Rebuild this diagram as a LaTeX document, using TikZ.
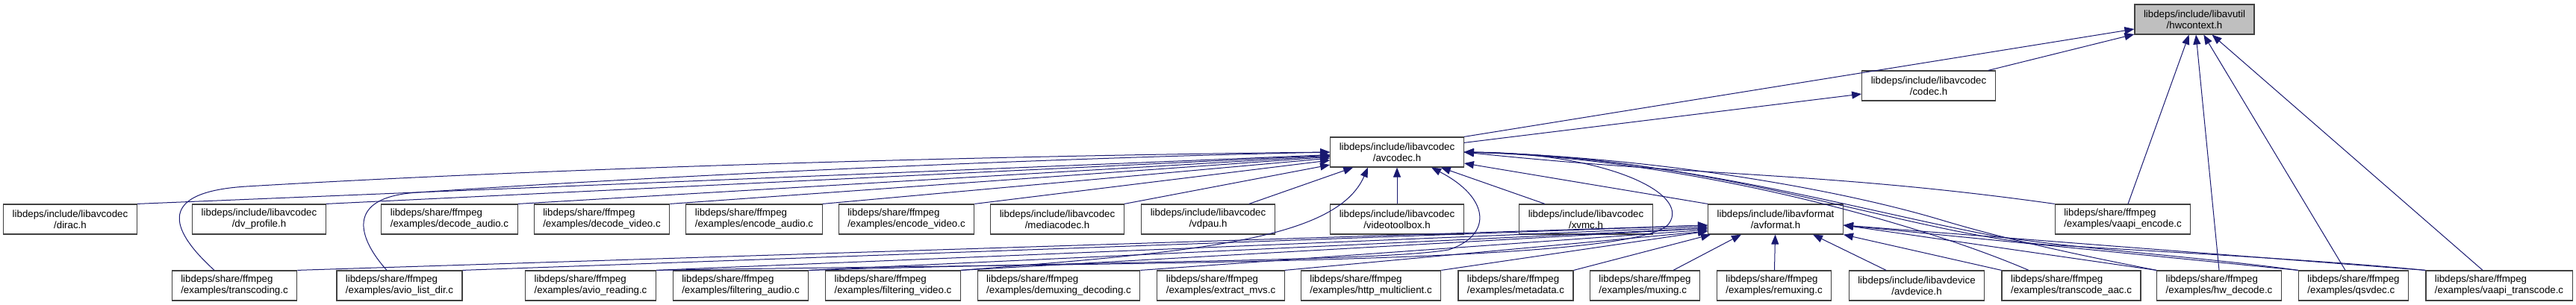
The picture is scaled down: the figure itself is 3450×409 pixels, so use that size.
\documentclass[tikz,border=0pt]{standalone}
\usepackage{fontspec}
\setmainfont{Liberation Sans}
\usetikzlibrary{arrows.meta}
\definecolor{edgeblue}{RGB}{25,25,112}
\definecolor{rootgray}{RGB}{191,191,191}
\definecolor{framegray}{RGB}{64,64,64}

\begin{document}
\begin{tikzpicture}[x=1pt, y=-1pt,
        box/.style={rectangle, draw=framegray, line width=1.2pt, fill=white, minimum height=40pt, inner xsep=12pt, inner ysep=0pt, align=center, font=\fontsize{13.3}{15}\selectfont},
        srcbox/.style={box, align=left},
        rootbox/.style={box, fill=rootgray},
        arrow/.style={-{Triangle[length=13pt,width=10pt]}, line width=1pt, edgeblue}]

        \useasboundingbox (0,0) rectangle (3450,409);

        \node[rootbox] (hwctx) at (2939,26) {libdeps/include/libavutil\\/hwcontext.h};
        \node[box] (codec) at (2583,115) {libdeps/include/libavcodec\\/codec.h};
        \node[box] (avcodec) at (1871,204) {libdeps/include/libavcodec\\/avcodec.h};

        \node[box] (dirac) at (94,294) {libdeps/include/libavcodec\\/dirac.h};
        \node[box] (dvprofile) at (347,294) {libdeps/include/libavcodec\\/dv\_profile.h};
        \node[srcbox] (decaudio) at (602,294) {libdeps/share/ffmpeg\\/examples/decode\_audio.c};
        \node[srcbox] (decvideo) at (806,294) {libdeps/share/ffmpeg\\/examples/decode\_video.c};
        \node[srcbox] (encaudio) at (1010,294) {libdeps/share/ffmpeg\\/examples/encode\_audio.c};
        \node[srcbox] (encvideo) at (1214,294) {libdeps/share/ffmpeg\\/examples/encode\_video.c};
        \node[box] (mediacodec) at (1416,294) {libdeps/include/libavcodec\\/mediacodec.h};
        \node[box] (vdpau) at (1618,294) {libdeps/include/libavcodec\\/vdpau.h};
        \node[box] (vtbox) at (1871,294) {libdeps/include/libavcodec\\/videotoolbox.h};
        \node[box] (xvmc) at (2124,294) {libdeps/include/libavcodec\\/xvmc.h};
        \node[box] (avformat) at (2378,294) {libdeps/include/libavformat\\/avformat.h};
        \node[srcbox] (vaapienc) at (2843,294) {libdeps/share/ffmpeg\\/examples/vaapi\_encode.c};

        \node[srcbox] (transcoding) at (314,383) {libdeps/share/ffmpeg\\/examples/transcoding.c};
        \node[srcbox] (aviolistdir) at (535,383) {libdeps/share/ffmpeg\\/examples/avio\_list\_dir.c};
        \node[srcbox] (avioreading) at (791,383) {libdeps/share/ffmpeg\\/examples/avio\_reading.c};
        \node[srcbox] (filtaudio) at (992,383) {libdeps/share/ffmpeg\\/examples/filtering\_audio.c};
        \node[srcbox] (filtvideo) at (1196,383) {libdeps/share/ffmpeg\\/examples/filtering\_video.c};
        \node[srcbox] (demuxdec) at (1418,383) {libdeps/share/ffmpeg\\/examples/demuxing\_decoding.c};
        \node[srcbox] (extractmvs) at (1635,383) {libdeps/share/ffmpeg\\/examples/extract\_mvs.c};
        \node[srcbox] (httpmulti) at (1836,383) {libdeps/share/ffmpeg\\/examples/http\_multiclient.c};
        \node[srcbox] (metadata) at (2030,383) {libdeps/share/ffmpeg\\/examples/metadata.c};
        \node[srcbox] (muxing) at (2203,383) {libdeps/share/ffmpeg\\/examples/muxing.c};
        \node[srcbox] (remuxing) at (2376,383) {libdeps/share/ffmpeg\\/examples/remuxing.c};
        \node[box] (avdevice) at (2567,383) {libdeps/include/libavdevice\\/avdevice.h};
        \node[srcbox] (transaac) at (2774,383) {libdeps/share/ffmpeg\\/examples/transcode\_aac.c};
        \node[srcbox] (hwdecode) at (2972,383) {libdeps/share/ffmpeg\\/examples/hw\_decode.c};
        \node[srcbox] (qsvdec) at (3152,383) {libdeps/share/ffmpeg\\/examples/qsvdec.c};
        \node[srcbox] (vaapitrans) at (3347,383) {libdeps/share/ffmpeg\\/examples/vaapi\_transcode.c};

        \draw[arrow] ([xshift=-10pt]codec.north east) -- (hwctx);
        \draw[arrow] (avcodec.north east) -- (hwctx);
        \draw[arrow] ([yshift=-8pt]avcodec.north east) -- (codec);
        \draw[arrow] ([xshift=7pt]vaapienc.north) -- (hwctx);
        \draw[arrow] (hwdecode.north) -- (hwctx);
        \draw[arrow] ([xshift=-11pt]qsvdec.north) -- (hwctx);
        \draw[arrow] ([xshift=-22pt]vaapitrans.north) -- (hwctx);

        \draw[arrow] (dirac.north east) -- (avcodec);
        \draw[arrow] (dvprofile.north east) -- (avcodec);
        \draw[arrow] (decaudio.north east) -- (avcodec);
        \draw[arrow] (decvideo.north east) -- (avcodec);
        \draw[arrow] (encaudio.north east) -- (avcodec);
        \draw[arrow] (encvideo.north east) -- (avcodec);
        \draw[arrow] (mediacodec.north east) -- (avcodec);
        \draw[arrow] ([xshift=-35pt]vdpau.north east) -- (avcodec);
        \draw[arrow] (vtbox) -- (avcodec);
        \draw[arrow] ([xshift=-55pt]xvmc.north) -- (avcodec);
        \draw[arrow] (avformat.north west) -- (avcodec);
        \draw[arrow] (vaapienc.north west) to[out=172,in=-6] (avcodec.east);

        \draw[arrow] ([xshift=-27pt]transcoding.north) .. controls (235,315) and (200,258) .. (330,250) .. controls (800,222) and (1400,208) .. (avcodec.west);
        \draw[arrow] ([xshift=-17pt]aviolistdir.north) .. controls (480,320) and (460,264) .. (560,258) .. controls (900,235) and (1400,212) .. (avcodec.west);
        \draw[arrow] (filtvideo.north east) .. controls (1600,338) and (1790,322) .. ([xshift=-39pt]avcodec.south);
        \draw[arrow] (filtaudio.north east) .. controls (1500,350) and (1850,350) .. (1940,335) .. controls (2000,315) and (1995,265) .. ([xshift=46pt]avcodec.south);
        \draw[arrow] (avioreading.north east) .. controls (1500,352) and (2195,355) .. (2235,300) .. controls (2265,259) and (2150,205) .. (avcodec.east);
        \draw[arrow] ([xshift=-57pt]transaac.north) .. controls (2560,295) and (2250,212) .. (avcodec.east);
        \draw[arrow] (hwdecode.north west) .. controls (2800,345) and (2700,325) .. (2600,295) .. controls (2450,250) and (2200,210) .. (avcodec.east);
        \draw[arrow] (qsvdec.north west) .. controls (2950,345) and (2800,335) .. (2680,318) .. controls (2500,285) and (2250,210) .. (avcodec.east);
        \draw[arrow] (vaapitrans.north west) .. controls (3100,348) and (2900,338) .. (2740,328) .. controls (2550,312) and (2300,210) .. (avcodec.east);

        \draw[arrow] (transcoding.north east) -- ([yshift=-8pt]avformat.west);
        \draw[arrow] (aviolistdir.north east) -- ([yshift=-8pt]avformat.west);
        \draw[arrow] (avioreading.north east) -- ([yshift=-10pt]avformat.west);
        \draw[arrow] (filtaudio.north east) -- ([yshift=-12pt]avformat.west);
        \draw[arrow] (filtvideo.north east) -- ([yshift=-12pt]avformat.west);
        \draw[arrow] (demuxdec.north east) -- ([yshift=-14pt]avformat.west);
        \draw[arrow] (extractmvs.north east) -- ([yshift=-16pt]avformat.west);
        \draw[arrow] (httpmulti.north east) -- ([yshift=-16pt]avformat.west);
        \draw[arrow] (metadata.north east) -- ([xshift=4pt]avformat.south west);
        \draw[arrow] ([xshift=38pt]muxing.north) -- ([xshift=-46pt]avformat.south);
        \draw[arrow] (remuxing) -- (avformat);
        \draw[arrow] ([xshift=-41pt]avdevice.north) -- ([xshift=50pt]avformat.south);
        \draw[arrow] (transaac.north west) -- (avformat.south east);
        \draw[arrow] (hwdecode.north west) -- ([yshift=-8pt]avformat.east);
        \draw[arrow] (qsvdec.north west) -- ([yshift=-8pt]avformat.east);
        \draw[arrow] (vaapitrans.north west) -- ([yshift=-8pt]avformat.east);

    \end{tikzpicture}
\end{document}
